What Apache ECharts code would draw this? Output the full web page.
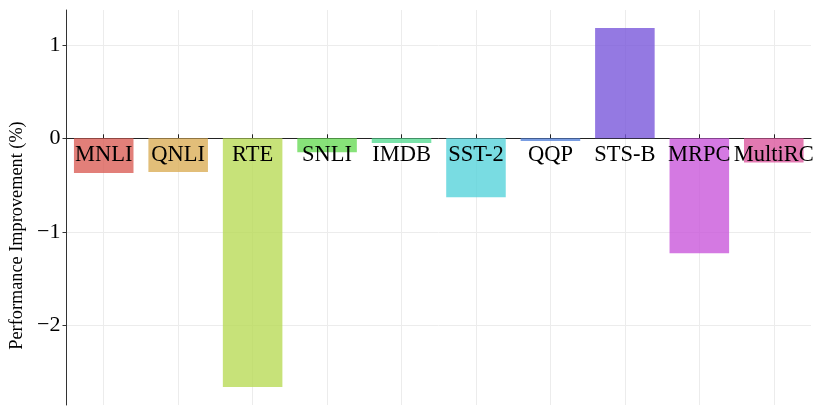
<!DOCTYPE html>
<html>
<head>
<meta charset="utf-8">
<script src="https://cdn.jsdelivr.net/npm/echarts@6/dist/echarts.min.js"></script>
<style>
  html, body { margin: 0; padding: 0; background: #fff; }
  #chart { width: 830px; height: 415px; }
</style>
</head>
<body>
<div id="chart"></div>
<script>
const tasks = ['MNLI', 'QNLI', 'RTE', 'SNLI', 'IMDB', 'SST-2', 'QQP', 'STS-B', 'MRPC', 'MultiRC'];
const improvement = [-0.37, -0.36, -2.66, -0.15, -0.05, -0.63, -0.03, 1.18, -1.23, -0.26];
const yTicks = [-2, -1, 0, 1];

// hls palette, 10 hues
const colors = [
  '#db5f57', '#dbae57', '#b9db57', '#69db57', '#57db94',
  '#57d3db', '#5784db', '#7957db', '#c957db', '#db579e',
];

const serif = '"Liberation Serif", "Times New Roman", serif';
const chart = echarts.init(document.getElementById('chart'));

chart.setOption({
  animation: false,
  grid: { left: 66.5, right: 19, top: 10, bottom: 10, containLabel: false, outerBoundsMode: 'none' },
  xAxis: {
    type: 'category',
    data: tasks,
    axisLine: { onZero: true, lineStyle: { color: '#222', width: 1 } },
    axisTick: { show: true, alignWithLabel: true, inside: true, length: 4, lineStyle: { color: '#222' } },
    axisLabel: { show: false },
    splitLine: { show: true, alignWithLabel: true, lineStyle: { color: '#ececec', width: 1 } },
  },
  yAxis: {
    type: 'value',
    min: -2.852,
    max: 1.372,
    name: 'Performance Improvement (%)',
    nameLocation: 'middle',
    nameGap: 40,
    nameTextStyle: { fontFamily: serif, fontSize: 18.3, color: '#000', padding: [0, 56, 0, 0] },
    axisLine: { show: true, lineStyle: { color: '#333', width: 1 } },
    axisTick: { show: true, length: 4, customValues: yTicks, lineStyle: { color: '#333' } },
    axisLabel: {
      customValues: yTicks,
      fontFamily: serif,
      fontSize: 22,
      color: '#000',
      margin: 6,
      formatter: v => String(v).replace('-', '\u2212'),
    },
    splitLine: { show: true, lineStyle: { color: '#ececec', width: 1 } },
  },
  series: [
    {
      type: 'bar',
      barWidth: '80%',
      data: improvement.map((v, i) => ({
        value: v,
        itemStyle: { color: colors[i], opacity: 0.8 },
      })),
    },
    {
      // task names sit just below the zero line
      type: 'scatter',
      symbolSize: 0,
      z: 10,
      silent: true,
      itemStyle: { opacity: 1 },
      data: tasks.map(t => [t, 0]),
      label: {
        show: true,
        position: 'bottom',
        distance: 5,
        formatter: p => p.data[0],
        fontFamily: serif,
        fontSize: 22.5,
        color: '#000',
        opacity: 1,
        textBorderWidth: 0,
      },
    },
  ],
});
</script>
</body>
</html>
